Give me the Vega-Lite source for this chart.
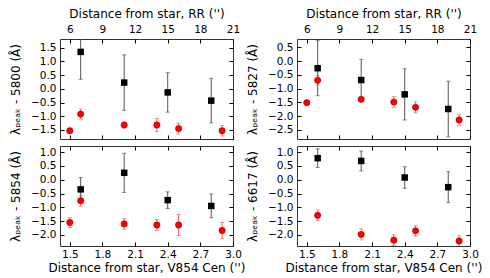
{
  "$schema": "https://vega.github.io/schema/vega-lite/v6.json",
  "padding": {"left": 9, "top": 7, "right": 5, "bottom": 3},
  "datasets": {
    "pts": [
      {"p": "5800", "s": "sq", "d": 1.6, "v": 1.35, "e": 1.0},
      {"p": "5800", "s": "sq", "d": 2.0, "v": 0.23, "e": 1.01},
      {"p": "5800", "s": "sq", "d": 2.4, "v": -0.13, "e": 0.72},
      {"p": "5800", "s": "sq", "d": 2.8, "v": -0.43, "e": 0.81},
      {"p": "5800", "s": "ci", "d": 1.5, "v": -1.53, "e": 0.04},
      {"p": "5800", "s": "ci", "d": 1.6, "v": -0.92, "e": 0.18},
      {"p": "5800", "s": "ci", "d": 2.0, "v": -1.32, "e": 0.1},
      {"p": "5800", "s": "ci", "d": 2.3, "v": -1.32, "e": 0.24},
      {"p": "5800", "s": "ci", "d": 2.5, "v": -1.45, "e": 0.2},
      {"p": "5800", "s": "ci", "d": 2.9, "v": -1.53, "e": 0.19},
      {"p": "5827", "s": "sq", "d": 1.6, "v": -0.26, "e": 1.0},
      {"p": "5827", "s": "sq", "d": 2.0, "v": -0.69, "e": 0.75},
      {"p": "5827", "s": "sq", "d": 2.4, "v": -1.21, "e": 0.93},
      {"p": "5827", "s": "sq", "d": 2.8, "v": -1.74, "e": 1.01},
      {"p": "5827", "s": "ci", "d": 1.5, "v": -1.51, "e": 0.07},
      {"p": "5827", "s": "ci", "d": 1.6, "v": -0.70, "e": 0.17},
      {"p": "5827", "s": "ci", "d": 2.0, "v": -1.39, "e": 0.08},
      {"p": "5827", "s": "ci", "d": 2.3, "v": -1.49, "e": 0.2},
      {"p": "5827", "s": "ci", "d": 2.5, "v": -1.68, "e": 0.2},
      {"p": "5827", "s": "ci", "d": 2.9, "v": -2.14, "e": 0.21},
      {"p": "5854", "s": "sq", "d": 1.6, "v": -0.35, "e": 0.43},
      {"p": "5854", "s": "sq", "d": 2.0, "v": 0.25, "e": 0.71},
      {"p": "5854", "s": "sq", "d": 2.4, "v": -0.74, "e": 0.3},
      {"p": "5854", "s": "sq", "d": 2.8, "v": -0.95, "e": 0.43},
      {"p": "5854", "s": "ci", "d": 1.5, "v": -1.55, "e": 0.18},
      {"p": "5854", "s": "ci", "d": 1.6, "v": -0.76, "e": 0.2},
      {"p": "5854", "s": "ci", "d": 2.0, "v": -1.6, "e": 0.19},
      {"p": "5854", "s": "ci", "d": 2.3, "v": -1.64, "e": 0.2},
      {"p": "5854", "s": "ci", "d": 2.5, "v": -1.64, "e": 0.38},
      {"p": "5854", "s": "ci", "d": 2.9, "v": -1.84, "e": 0.29},
      {"p": "6617", "s": "sq", "d": 1.6, "v": 0.78, "e": 0.34},
      {"p": "6617", "s": "sq", "d": 2.0, "v": 0.68, "e": 0.36},
      {"p": "6617", "s": "sq", "d": 2.4, "v": 0.08, "e": 0.39},
      {"p": "6617", "s": "sq", "d": 2.8, "v": -0.27, "e": 0.56},
      {"p": "6617", "s": "ci", "d": 1.6, "v": -1.29, "e": 0.19},
      {"p": "6617", "s": "ci", "d": 2.0, "v": -1.98, "e": 0.2},
      {"p": "6617", "s": "ci", "d": 2.3, "v": -2.19, "e": 0.19},
      {"p": "6617", "s": "ci", "d": 2.5, "v": -1.85, "e": 0.19},
      {"p": "6617", "s": "ci", "d": 2.9, "v": -2.22, "e": 0.19}
    ]
  },
  "columns": 2,
  "spacing": {"row": 5, "column": 0},
  "concat": [
    {
      "width": 173, "height": 100,
      "data": {"name": "pts"},
      "transform": [{"filter": "datum.p === '5800'"}],
      "resolve": {"axis": {"x": "independent", "y": "independent"}},
      "layer": [
        {
          "transform": [{"filter": "datum.s === 'ci'"}],
          "mark": {"type": "errorbar", "color": "#ff6060", "ticks": {"size": 4}, "clip": true},
          "encoding": {
            "x": {"field": "d", "type": "quantitative", "scale": {"domain": [1.41, 3.0]}, "axis": {"orient": "bottom", "values": [1.5, 1.8, 2.1, 2.4, 2.7, 3.0], "labels": false, "title": null}},
            "y": {"field": "v", "type": "quantitative", "scale": {"domain": [-1.83, 1.82]}, "axis": {"orient": "left", "values": [-1.5, -1.0, -0.5, 0.0, 0.5, 1.0, 1.5], "format": ".1f", "title": "λₚₑₐₖ - 5800 (Å)"}},
            "yError": {"field": "e"}
          }
        },
        {
          "transform": [{"filter": "datum.s === 'sq'"}],
          "mark": {"type": "errorbar", "color": "#555555", "ticks": {"size": 4}, "clip": true},
          "encoding": {
            "x": {"field": "d", "type": "quantitative", "scale": {"domain": [1.41, 3.0]}, "axis": {"orient": "top", "labelPadding": 8.5, "values": [1.5, 1.8, 2.1, 2.4, 2.7, 3.0], "labelExpr": "format(round(datum.value*10-9), 'd')", "title": "Distance from star, RR ('')"}},
            "y": {"field": "v", "type": "quantitative", "scale": {"domain": [-1.83, 1.82]}, "axis": {"orient": "right", "values": [-1.5, -1.0, -0.5, 0.0, 0.5, 1.0, 1.5], "labels": false, "title": null}},
            "yError": {"field": "e"}
          }
        },
        {
          "transform": [{"filter": "datum.s === 'ci'"}],
          "mark": {"type": "point", "shape": "circle", "filled": true, "color": "#ff0000", "stroke": "#700000", "strokeWidth": 0.5, "size": 40, "opacity": 1, "clip": true},
          "encoding": {
            "x": {"field": "d", "type": "quantitative", "scale": {"domain": [1.41, 3.0]}, "axis": null},
            "y": {"field": "v", "type": "quantitative", "scale": {"domain": [-1.83, 1.82]}, "axis": null}
          }
        },
        {
          "transform": [{"filter": "datum.s === 'sq'"}],
          "mark": {"type": "point", "shape": "square", "filled": true, "color": "#000000", "size": 42, "opacity": 1, "clip": true},
          "encoding": {
            "x": {"field": "d", "type": "quantitative", "scale": {"domain": [1.41, 3.0]}, "axis": null},
            "y": {"field": "v", "type": "quantitative", "scale": {"domain": [-1.83, 1.82]}, "axis": null}
          }
        }
      ]
    },
    {
      "width": 173, "height": 100,
      "data": {"name": "pts"},
      "transform": [{"filter": "datum.p === '5827'"}],
      "resolve": {"axis": {"x": "independent", "y": "independent"}},
      "layer": [
        {
          "transform": [{"filter": "datum.s === 'ci'"}],
          "mark": {"type": "errorbar", "color": "#ff6060", "ticks": {"size": 4}, "clip": true},
          "encoding": {
            "x": {"field": "d", "type": "quantitative", "scale": {"domain": [1.41, 3.0]}, "axis": {"orient": "bottom", "values": [1.5, 1.8, 2.1, 2.4, 2.7, 3.0], "labels": false, "title": null}},
            "y": {"field": "v", "type": "quantitative", "scale": {"domain": [-2.83, 0.8]}, "axis": {"orient": "left", "values": [-2.5, -2.0, -1.5, -1.0, -0.5, 0.0, 0.5], "format": ".1f", "title": "λₚₑₐₖ - 5827 (Å)"}},
            "yError": {"field": "e"}
          }
        },
        {
          "transform": [{"filter": "datum.s === 'sq'"}],
          "mark": {"type": "errorbar", "color": "#555555", "ticks": {"size": 4}, "clip": true},
          "encoding": {
            "x": {"field": "d", "type": "quantitative", "scale": {"domain": [1.41, 3.0]}, "axis": {"orient": "top", "labelPadding": 8.5, "values": [1.5, 1.8, 2.1, 2.4, 2.7, 3.0], "labelExpr": "format(round(datum.value*10-9), 'd')", "title": "Distance from star, RR ('')"}},
            "y": {"field": "v", "type": "quantitative", "scale": {"domain": [-2.83, 0.8]}, "axis": {"orient": "right", "values": [-2.5, -2.0, -1.5, -1.0, -0.5, 0.0, 0.5], "labels": false, "title": null}},
            "yError": {"field": "e"}
          }
        },
        {
          "transform": [{"filter": "datum.s === 'ci'"}],
          "mark": {"type": "point", "shape": "circle", "filled": true, "color": "#ff0000", "stroke": "#700000", "strokeWidth": 0.5, "size": 40, "opacity": 1, "clip": true},
          "encoding": {
            "x": {"field": "d", "type": "quantitative", "scale": {"domain": [1.41, 3.0]}, "axis": null},
            "y": {"field": "v", "type": "quantitative", "scale": {"domain": [-2.83, 0.8]}, "axis": null}
          }
        },
        {
          "transform": [{"filter": "datum.s === 'sq'"}],
          "mark": {"type": "point", "shape": "square", "filled": true, "color": "#000000", "size": 42, "opacity": 1, "clip": true},
          "encoding": {
            "x": {"field": "d", "type": "quantitative", "scale": {"domain": [1.41, 3.0]}, "axis": null},
            "y": {"field": "v", "type": "quantitative", "scale": {"domain": [-2.83, 0.8]}, "axis": null}
          }
        }
      ]
    },
    {
      "width": 173, "height": 100,
      "data": {"name": "pts"},
      "transform": [{"filter": "datum.p === '5854'"}],
      "resolve": {"axis": {"x": "independent", "y": "independent"}},
      "layer": [
        {
          "transform": [{"filter": "datum.s === 'ci'"}],
          "mark": {"type": "errorbar", "color": "#ff6060", "ticks": {"size": 4}, "clip": true},
          "encoding": {
            "x": {"field": "d", "type": "quantitative", "scale": {"domain": [1.41, 3.0]}, "axis": {"orient": "bottom", "titlePadding": 3, "values": [1.5, 1.8, 2.1, 2.4, 2.7, 3.0], "format": ".1f", "title": "Distance from star, V854 Cen ('')"}},
            "y": {"field": "v", "type": "quantitative", "scale": {"domain": [-2.4, 1.22]}, "axis": {"orient": "left", "values": [-2.0, -1.5, -1.0, -0.5, 0.0, 0.5, 1.0], "format": ".1f", "title": "λₚₑₐₖ - 5854 (Å)"}},
            "yError": {"field": "e"}
          }
        },
        {
          "transform": [{"filter": "datum.s === 'sq'"}],
          "mark": {"type": "errorbar", "color": "#555555", "ticks": {"size": 4}, "clip": true},
          "encoding": {
            "x": {"field": "d", "type": "quantitative", "scale": {"domain": [1.41, 3.0]}, "axis": {"orient": "top", "values": [1.5, 1.8, 2.1, 2.4, 2.7, 3.0], "labels": false, "title": null}},
            "y": {"field": "v", "type": "quantitative", "scale": {"domain": [-2.4, 1.22]}, "axis": {"orient": "right", "values": [-2.0, -1.5, -1.0, -0.5, 0.0, 0.5, 1.0], "labels": false, "title": null}},
            "yError": {"field": "e"}
          }
        },
        {
          "transform": [{"filter": "datum.s === 'ci'"}],
          "mark": {"type": "point", "shape": "circle", "filled": true, "color": "#ff0000", "stroke": "#700000", "strokeWidth": 0.5, "size": 40, "opacity": 1, "clip": true},
          "encoding": {
            "x": {"field": "d", "type": "quantitative", "scale": {"domain": [1.41, 3.0]}, "axis": null},
            "y": {"field": "v", "type": "quantitative", "scale": {"domain": [-2.4, 1.22]}, "axis": null}
          }
        },
        {
          "transform": [{"filter": "datum.s === 'sq'"}],
          "mark": {"type": "point", "shape": "square", "filled": true, "color": "#000000", "size": 42, "opacity": 1, "clip": true},
          "encoding": {
            "x": {"field": "d", "type": "quantitative", "scale": {"domain": [1.41, 3.0]}, "axis": null},
            "y": {"field": "v", "type": "quantitative", "scale": {"domain": [-2.4, 1.22]}, "axis": null}
          }
        }
      ]
    },
    {
      "width": 173, "height": 100,
      "data": {"name": "pts"},
      "transform": [{"filter": "datum.p === '6617'"}],
      "resolve": {"axis": {"x": "independent", "y": "independent"}},
      "layer": [
        {
          "transform": [{"filter": "datum.s === 'ci'"}],
          "mark": {"type": "errorbar", "color": "#ff6060", "ticks": {"size": 4}, "clip": true},
          "encoding": {
            "x": {"field": "d", "type": "quantitative", "scale": {"domain": [1.41, 3.0]}, "axis": {"orient": "bottom", "titlePadding": 3, "values": [1.5, 1.8, 2.1, 2.4, 2.7, 3.0], "format": ".1f", "title": "Distance from star, V854 Cen ('')"}},
            "y": {"field": "v", "type": "quantitative", "scale": {"domain": [-2.4, 1.22]}, "axis": {"orient": "left", "values": [-2.0, -1.5, -1.0, -0.5, 0.0, 0.5, 1.0], "format": ".1f", "title": "λₚₑₐₖ - 6617 (Å)"}},
            "yError": {"field": "e"}
          }
        },
        {
          "transform": [{"filter": "datum.s === 'sq'"}],
          "mark": {"type": "errorbar", "color": "#555555", "ticks": {"size": 4}, "clip": true},
          "encoding": {
            "x": {"field": "d", "type": "quantitative", "scale": {"domain": [1.41, 3.0]}, "axis": {"orient": "top", "values": [1.5, 1.8, 2.1, 2.4, 2.7, 3.0], "labels": false, "title": null}},
            "y": {"field": "v", "type": "quantitative", "scale": {"domain": [-2.4, 1.22]}, "axis": {"orient": "right", "values": [-2.0, -1.5, -1.0, -0.5, 0.0, 0.5, 1.0], "labels": false, "title": null}},
            "yError": {"field": "e"}
          }
        },
        {
          "transform": [{"filter": "datum.s === 'ci'"}],
          "mark": {"type": "point", "shape": "circle", "filled": true, "color": "#ff0000", "stroke": "#700000", "strokeWidth": 0.5, "size": 40, "opacity": 1, "clip": true},
          "encoding": {
            "x": {"field": "d", "type": "quantitative", "scale": {"domain": [1.41, 3.0]}, "axis": null},
            "y": {"field": "v", "type": "quantitative", "scale": {"domain": [-2.4, 1.22]}, "axis": null}
          }
        },
        {
          "transform": [{"filter": "datum.s === 'sq'"}],
          "mark": {"type": "point", "shape": "square", "filled": true, "color": "#000000", "size": 42, "opacity": 1, "clip": true},
          "encoding": {
            "x": {"field": "d", "type": "quantitative", "scale": {"domain": [1.41, 3.0]}, "axis": null},
            "y": {"field": "v", "type": "quantitative", "scale": {"domain": [-2.4, 1.22]}, "axis": null}
          }
        }
      ]
    }
  ],
  "config": {
    "font": "DejaVu Sans",
    "view": {"stroke": "#333333", "strokeWidth": 1},
    "axis": {
      "domain": false,
      "grid": false,
      "ticks": true,
      "tickSize": -4,
      "tickColor": "#000000",
      "labelPadding": 7,
      "labelFontSize": 10.5,
      "labelColor": "#000000",
      "labelFont": "DejaVu Sans",
      "labelFlush": false,
      "labelOverlap": false,
      "titleFontSize": 12,
      "titleFont": "DejaVu Sans",
      "titleFontWeight": "normal",
      "titleColor": "#000000",
      "titlePadding": 4
    },
    "axisY": {"titlePadding": 8, "labelPadding": 8}
  }
}
